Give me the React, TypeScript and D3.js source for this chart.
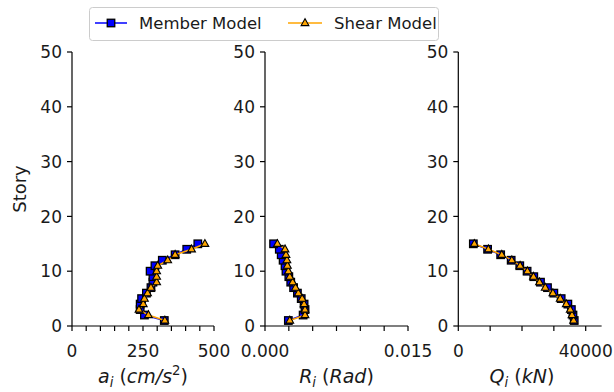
import React from "react";
import * as d3 from "d3";

const stories = [1, 2, 3, 4, 5, 6, 7, 8, 9, 10, 11, 12, 13, 14, 15];

const memberAcc = [325, 255, 240, 240, 245, 262, 278, 285, 285, 275, 292, 318, 363, 404, 443];
const shearAcc = [327, 269, 236, 251, 255, 266, 278, 298, 298, 298, 302, 337, 363, 421, 468];

const memberDrift = [0.00245, 0.004, 0.0042, 0.0041, 0.0038, 0.0034, 0.003, 0.0027, 0.0025, 0.0022, 0.0021, 0.0019, 0.0017, 0.0015, 0.0009];
const shearDrift = [0.0026, 0.0042, 0.0042, 0.0041, 0.0039, 0.0035, 0.0032, 0.0029, 0.0026, 0.00245, 0.00235, 0.0023, 0.0022, 0.0021, 0.0013];

const memberShear = [36400, 36000, 35500, 34400, 32300, 30000, 28000, 25800, 23700, 21600, 19300, 16600, 13300, 9200, 4720];
const shearShear = [36200, 35700, 35150, 33900, 32000, 29700, 27300, 25500, 23600, 21700, 19400, 16800, 13650, 9440, 5040];

const yTicks = [0, 10, 20, 30, 40, 50];
const accTicks = [0, 50, 100, 150, 200, 250, 300, 350, 400, 450, 500];
const accLabels = ["0", "250", "500"];
const driftTicks = [0, 0.0025, 0.005, 0.0075, 0.01, 0.0125, 0.015];
const driftLabels = ["0.000", "0.015"];
const shearTicks = [0, 10000, 20000, 30000, 40000];
const shearLabels = ["0", "40000"];

const FONT = "DejaVu Sans";
const FS = 17;
const LFS = 19;
const BLUE = "#0000ff";
const ORANGE = "#ffa500";
const TXT = "#1a1a1a";

const Y0 = 326;
const Y1 = 52;

type PanelProps = {
  x0: number;
  x1: number;
  domain: [number, number];
  axisMax: number;
  ticks: number[];
  labels: string[];
  member: number[];
  shear: number[];
  label: React.ReactNode;
};

function Square({ x, y }: { x: number; y: number }) {
  const s = 7.5;
  return <rect x={x - s / 2} y={y - s / 2} width={s} height={s} fill={BLUE} stroke="#000" strokeWidth={1.3} />;
}

function Tri({ x, y }: { x: number; y: number }) {
  const r = 4.3;
  const p = `${x},${y - r} ${x - r * 0.9},${y + r * 0.6} ${x + r * 0.9},${y + r * 0.6}`;
  return <polygon points={p} fill={ORANGE} stroke="#000" strokeWidth={1.1} />;
}

function Panel({ x0, x1, domain, axisMax, ticks, labels, member, shear, label }: PanelProps) {
  const xs = d3.scaleLinear().domain(domain).range([x0, x1]);
  const ys = d3.scaleLinear().domain([0, 50]).range([Y0, Y1]);
  const line = d3
    .line<number>()
    .x((d) => xs(d))
    .y((_, i) => ys(stories[i]));
  const labelVals = labels.map((l) => +l);
  return (
    <g>
      <line x1={x0} x2={x0} y1={Y1} y2={Y0} stroke="#000" strokeWidth={1.2} />
      <line x1={x0} x2={xs(axisMax)} y1={Y0} y2={Y0} stroke="#000" strokeWidth={1.2} />
      {yTicks.map((t) => (
        <g key={"y" + t}>
          <line x1={x0 - 5} x2={x0} y1={ys(t)} y2={ys(t)} stroke="#000" strokeWidth={1.2} />
          <text x={x0 - 10} y={ys(t)} dy="0.36em" textAnchor="end" fontFamily={FONT} fontSize={FS} fill={TXT}>
            {t}
          </text>
        </g>
      ))}
      {ticks.map((t) => (
        <line key={"x" + t} x1={xs(t)} x2={xs(t)} y1={Y0} y2={Y0 + 5} stroke="#000" strokeWidth={1.2} />
      ))}
      {labels.map((l, i) => (
        <text key={"xl" + l} x={xs(labelVals[i])} y={Y0 + 31} textAnchor="middle" fontFamily={FONT} fontSize={FS} fill={TXT}>
          {l}
        </text>
      ))}
      <text x={(x0 + xs(axisMax)) / 2 - (axisMax > domain[1] ? 8 : 0)} y={Y0 + 57} textAnchor="middle" fontFamily={FONT} fontSize={LFS} fill={TXT}>
        {label}
      </text>
      <path d={line(member) || ""} fill="none" stroke={BLUE} strokeWidth={1.5} />
      {member.map((v, i) => (
        <Square key={"m" + i} x={xs(v)} y={ys(stories[i])} />
      ))}
      <path d={line(shear) || ""} fill="none" stroke={ORANGE} strokeWidth={1.5} />
      {shear.map((v, i) => (
        <Tri key={"s" + i} x={xs(v)} y={ys(stories[i])} />
      ))}
    </g>
  );
}

function MathLabel({ sym, unit, sup }: { sym: string; unit: string; sup?: string }) {
  return (
    <>
      <tspan fontStyle="italic">{sym}</tspan>
      <tspan fontStyle="italic" fontSize={LFS * 0.7} dy={4}>i</tspan>
      <tspan dy={-4}>{" ("}</tspan>
      <tspan fontStyle="italic">{unit}</tspan>
      {sup ? (
        <>
          <tspan fontSize={LFS * 0.7} dy={-8}>{sup}</tspan>
          <tspan dy={8}>)</tspan>
        </>
      ) : (
        <tspan>)</tspan>
      )}
    </>
  );
}

export default function App() {
  return (
    <svg width={614} height={392} style={{ position: "absolute", left: 0, top: 0, background: "#fff" }}>
      <rect x={0} y={0} width={614} height={392} fill="#fff" />
      <text transform={`translate(26,189) rotate(-90)`} textAnchor="middle" fontFamily={FONT} fontSize={FS + 1} fill={TXT}>
        Story
      </text>
      <Panel
        x0={72}
        x1={214}
        domain={[0, 500]}
        axisMax={500}
        ticks={accTicks}
        labels={accLabels}
        member={memberAcc}
        shear={shearAcc}
        label={<MathLabel sym="a" unit="cm/s" sup="2" />}
      />
      <Panel
        x0={265}
        x1={408}
        domain={[0, 0.015]}
        axisMax={0.015}
        ticks={driftTicks}
        labels={driftLabels}
        member={memberDrift}
        shear={shearDrift}
        label={<MathLabel sym="R" unit="Rad" />}
      />
      <Panel
        x0={458.3}
        x1={585.7}
        domain={[0, 40000]}
        axisMax={45000}
        ticks={shearTicks}
        labels={shearLabels}
        member={memberShear}
        shear={shearShear}
        label={<MathLabel sym="Q" unit="kN" />}
      />
      <g>
        <rect x={89.5} y={7.5} width={349} height={33} rx={3} fill="#fff" stroke="#ccc" strokeWidth={1} />
        <line x1={95} x2={127} y1={23} y2={23} stroke={BLUE} strokeWidth={1.5} />
        <Square x={111} y={23} />
        <text x={139} y={23} dy="0.36em" fontFamily={FONT} fontSize={16.5} fill={TXT}>
          Member Model
        </text>
        <line x1={288} x2={322} y1={23} y2={23} stroke={ORANGE} strokeWidth={1.5} />
        <Tri x={305} y={23} />
        <text x={334} y={23} dy="0.36em" fontFamily={FONT} fontSize={16.5} fill={TXT}>
          Shear Model
        </text>
      </g>
    </svg>
  );
}
